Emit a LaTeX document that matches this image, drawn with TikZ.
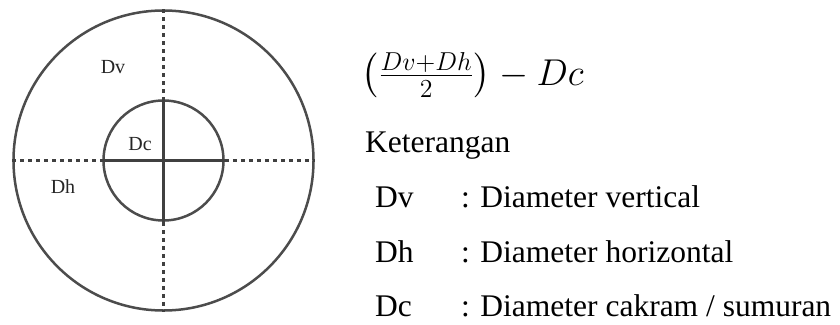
\documentclass[tikz,border=0pt]{standalone}
\usepackage{amsmath}
\usepackage{fontspec}
\setmainfont{Liberation Serif}
\usepackage{tikz}
\usetikzlibrary{positioning}

\begin{document}
\begin{tikzpicture}[
    x=1pt, y=-1pt,
    ring/.style={draw=black!70, line width=2.5pt, circle, inner sep=0pt},
    axis/.style={draw=black!75, line width=2.5pt},
    dashaxis/.style={axis, dash pattern=on 4pt off 4pt},
    lbl/.style={font=\fontsize{20}{24}\selectfont, text=black!85, inner sep=0pt},
    note/.style={font=\fontsize{31.5}{36}\selectfont, anchor=base west, inner sep=0pt},
    mathnote/.style={font=\fontsize{20.74}{25}\selectfont, anchor=base west, inner sep=0pt,
      scale=1.8, transform shape}
]
\useasboundingbox (0,0) rectangle (840,324);

% circles
\node[ring, minimum size=300pt] (outer) at (163.5,160.5) {};
\node[ring, minimum size=120pt] (inner) at (163.5,160.5) {};

% diameters
\draw[dashaxis] (outer.north) -- (inner.north);
\draw[axis] (inner.north) -- (inner.south);
\draw[dashaxis] (inner.south) -- (outer.south);
\draw[dashaxis] (outer.west) -- (inner.west);
\draw[axis] (inner.west) -- (inner.east);
\draw[dashaxis] (inner.east) -- (outer.east);

\node[lbl] (dv) at (113,67) {Dv};
\node[lbl] (dc) at (140,144) {Dc};
\node[lbl] (dh) at (63,187) {Dh};

% formula and legend
\node[mathnote] (formula) at (361,85) {$\left(\frac{Dv+Dh}{2}\right)-Dc$};
\node[note] (ket) at (365,152) {Keterangan};
\node[note] (dvkey) at (375,207) {Dv};
\node[note] (dvtext) at (461,207) {: Diameter vertical};
\node[note] (dhkey) at (375,262) {Dh};
\node[note] (dhtext) at (461,262) {: Diameter horizontal};
\node[note] (dckey) at (375,316) {Dc};
\node[note] (dctext) at (461,316) {: Diameter cakram / sumuran};
\end{tikzpicture}
\end{document}
